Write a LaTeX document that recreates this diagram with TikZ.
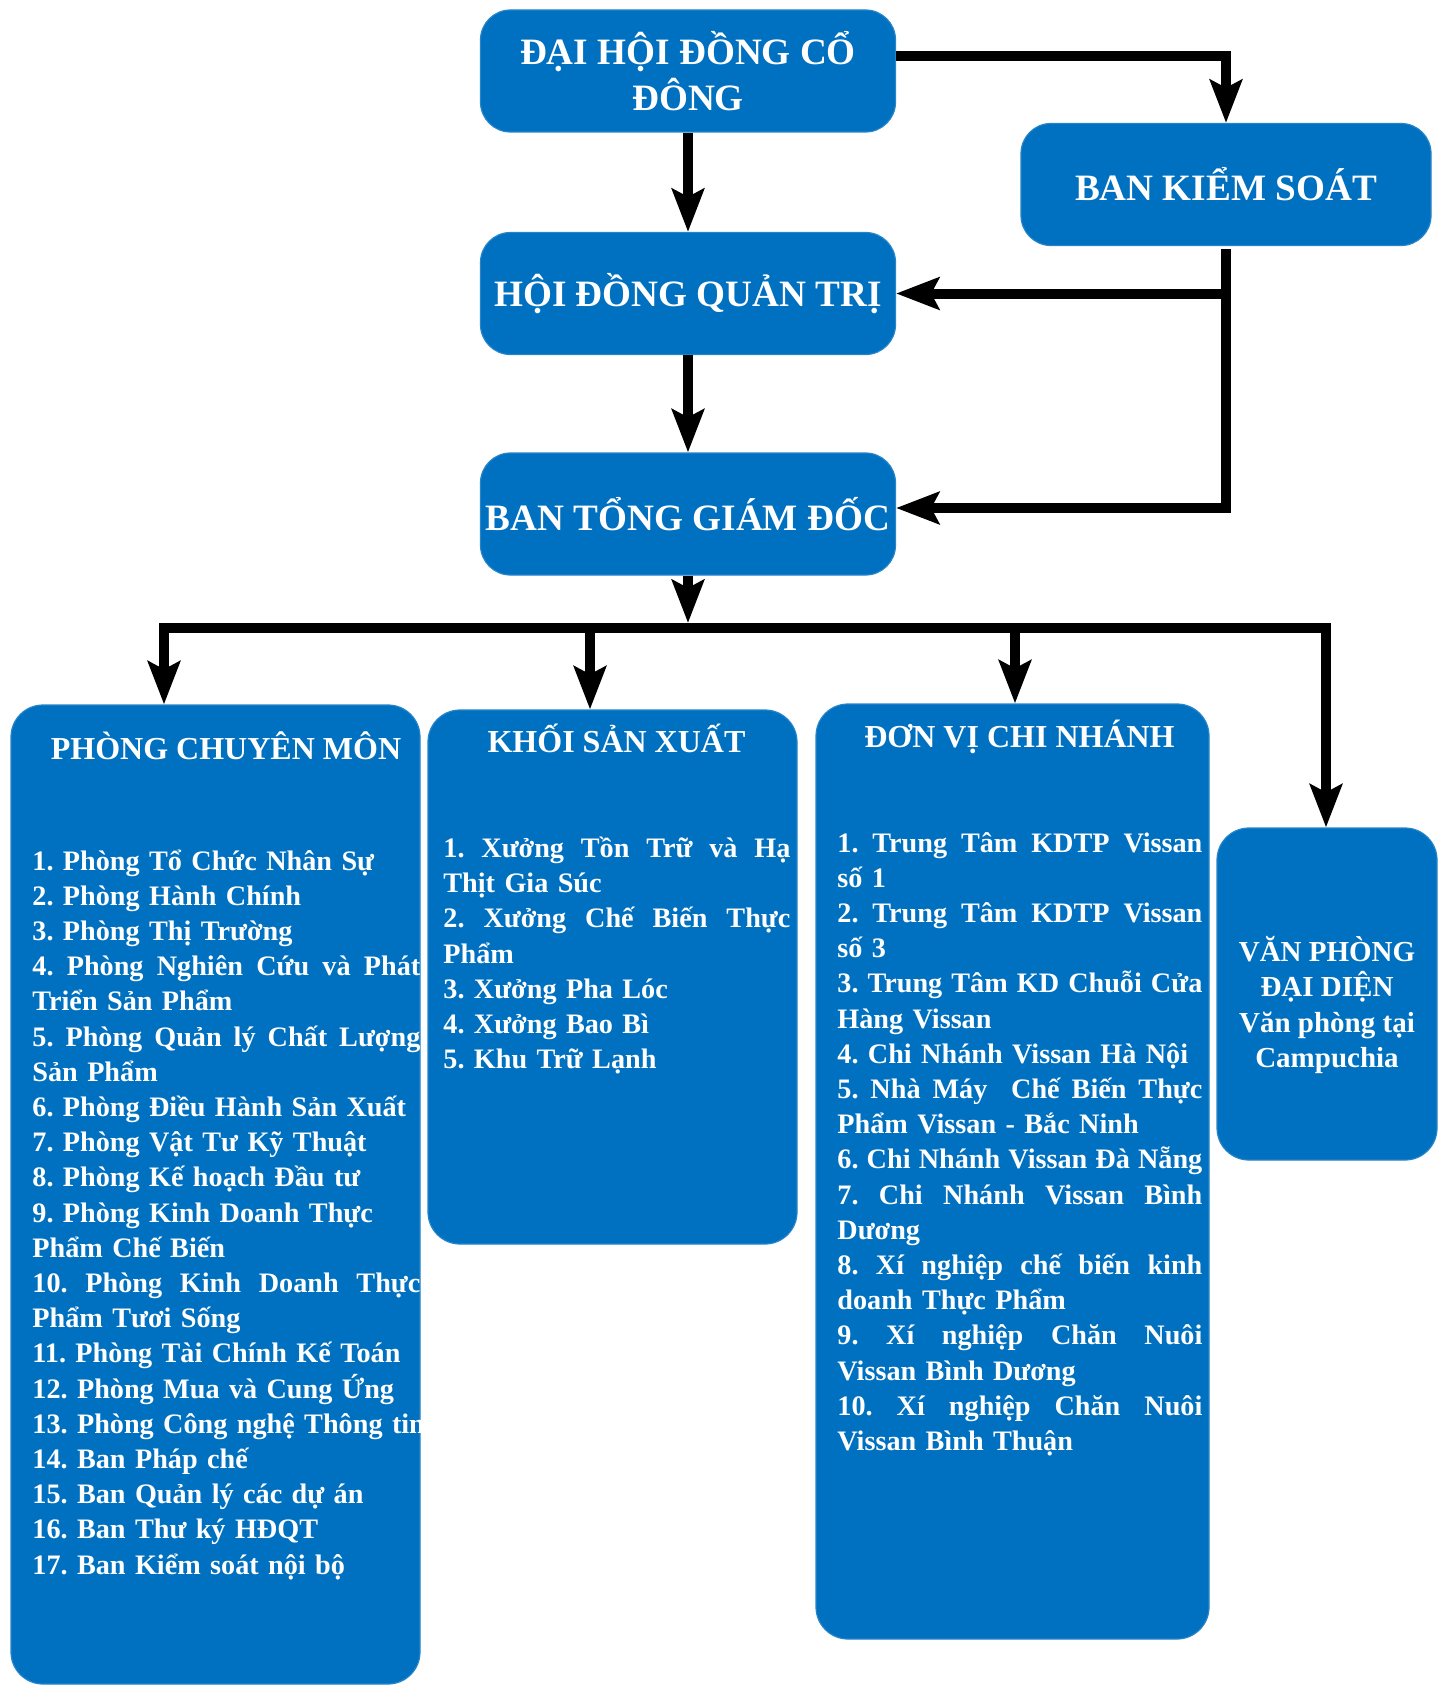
\documentclass[tikz,border=0pt]{standalone}
\usepackage{fontspec}
\setmainfont{Liberation Serif}
\usetikzlibrary{arrows.meta}
\definecolor{boxblue}{RGB}{0,112,192}
\newcommand{\jl}[2][194pt]{\leavevmode\hbox to #1{\spaceskip=\fontdimen2\font plus 1fil\relax #2}}
\frenchspacing

\begin{document}
\begin{tikzpicture}[x=0.5pt,y=-0.5pt,
  topbox/.style={rectangle,rounded corners=15pt,fill=boxblue,draw=boxblue!85!white,line width=0.6pt,
    text=white,font=\bfseries\fontsize{18.6}{22.8}\selectfont,align=center,
    minimum width=207.5pt,minimum height=61pt,inner sep=0pt},
  unitbox/.style={rectangle,rounded corners=16pt,fill=boxblue,draw=boxblue!85!white,line width=0.6pt,inner sep=0pt},
  headtext/.style={text=white,font=\bfseries\fontsize{16}{19}\selectfont,anchor=base,inner sep=0pt},
  listtext/.style={text=white,font=\bfseries\fontsize{14.1}{17.6}\selectfont,anchor=base west,align=left,
    text width=240pt,inner sep=0pt},
  conn/.style={line width=5pt},
  arr/.style={conn,-{Stealth[length=21.5pt,width=16pt,inset=4pt]}}]
  \useasboundingbox (0,0) rectangle (1443,1685);

  % upper levels
  \node[topbox] (dhcd) at (688,71) {ĐẠI HỘI ĐỒNG CỔ\\ĐÔNG};
  \node[topbox,minimum width=205pt] (bks) at (1226,184.5) {BAN KIỂM SOÁT};
  \node[topbox] (hdqt) at (688,293.5) {HỘI ĐỒNG QUẢN TRỊ};
  \node[topbox] (btgd) at (688,514) {BAN TỔNG GIÁM ĐỐC};

  % lower units
  \node[unitbox,minimum width=204.5pt,minimum height=489.5pt] (pcm) at (215.5,1194.5) {};
  \node[unitbox,minimum width=184.5pt,minimum height=267pt] (ksx) at (612.5,977) {};
  \node[unitbox,minimum width=196.5pt,minimum height=467.5pt] (dvcn) at (1012.5,1171.5) {};
  \node[unitbox,minimum width=110pt,minimum height=166pt] (vp) at (1327,994) {};

  \node[headtext] (pcmhead) at (226,759) {PHÒNG CHUYÊN MÔN};
  \node[headtext] (ksxhead) at (616.5,752.5) {KHỐI SẢN XUẤT};
  \node[headtext] (dvcnhead) at (1019.5,747) {ĐƠN VỊ CHI NHÁNH};

  \node[listtext] (pcmlist) at (32,870) {%
    1. Phòng Tổ Chức Nhân Sự\\
    2. Phòng Hành Chính\\
    3. Phòng Thị Trường\\
    \jl{4. Phòng Nghiên Cứu và Phát}\\
    Triển Sản Phẩm\\
    \jl{5. Phòng Quản lý Chất Lượng}\\
    Sản Phẩm\\
    6. Phòng Điều Hành Sản Xuất\\
    7. Phòng Vật Tư Kỹ Thuật\\
    8. Phòng Kế hoạch Đầu tư\\
    9. Phòng Kinh Doanh Thực\\
    Phẩm Chế Biến\\
    \jl{10. Phòng Kinh Doanh Thực}\\
    Phẩm Tươi Sống\\
    11. Phòng Tài Chính Kế Toán\\
    12. Phòng Mua và Cung Ứng\\
    13. Phòng Công nghệ Thông tin\\
    14. Ban Pháp chế\\
    15. Ban Quản lý các dự án\\
    16. Ban Thư ký HĐQT\\
    17. Ban Kiểm soát nội bộ};

  \node[listtext] (ksxlist) at (443,857.5) {%
    \jl[173.5pt]{1. Xưởng Tồn Trữ và Hạ}\\
    Thịt Gia Súc\\
    \jl[173.5pt]{2. Xưởng Chế Biến Thực}\\
    Phẩm\\
    3. Xưởng Pha Lóc\\
    4. Xưởng Bao Bì\\
    5. Khu Trữ Lạnh};

  \node[listtext] (dvcnlist) at (837,852) {%
    \jl[182.5pt]{1. Trung Tâm KDTP Vissan}\\
    số 1\\
    \jl[182.5pt]{2. Trung Tâm KDTP Vissan}\\
    số 3\\
    \jl[182.5pt]{3. Trung Tâm KD Chuỗi Cửa}\\
    Hàng Vissan\\
    4. Chi Nhánh Vissan Hà Nội\\
    \jl[182.5pt]{5. Nhà Máy \ Chế Biến Thực}\\
    Phẩm Vissan - Bắc Ninh\\
    \jl[182.5pt]{6. Chi Nhánh Vissan Đà Nẵng}\\
    \jl[182.5pt]{7. Chi Nhánh Vissan Bình}\\
    Dương\\
    \jl[182.5pt]{8. Xí nghiệp chế biến kinh}\\
    doanh Thực Phẩm\\
    \jl[182.5pt]{9. Xí nghiệp Chăn Nuôi}\\
    Vissan Bình Dương\\
    \jl[182.5pt]{10. Xí nghiệp Chăn Nuôi}\\
    Vissan Bình Thuận};

  \node[text=white,font=\bfseries\fontsize{14.5}{17.6}\selectfont,align=center,inner sep=0pt] (vptext) at (1327,1005)
    {VĂN PHÒNG\\ĐẠI DIỆN\\Văn phòng tại\\Campuchia};

  % connectors
  \coordinate (busL) at (164,628);
  \coordinate (busK) at (590,628);
  \coordinate (busD) at (1015,628);
  \coordinate (busR) at (1326,628);
  \draw[arr] (dhcd.east |- 0,56) -| (bks.north);
  \draw[arr] (dhcd) -- (hdqt);
  \draw[arr] (hdqt) -- (btgd);
  \draw[arr] (bks.south |- hdqt.east) -- (hdqt.east);
  \draw[arr] ([yshift=-1.5pt]bks.south) |- ([yshift=3pt]btgd.east);
  \draw[arr] (btgd) -- (btgd.south |- 0,623);
  \draw[arr] (btgd.south |- busL) -- (busL) -- (busL |- pcm.north);
  \draw[arr] (btgd.south |- busR) -- (busR) -- (busR |- vp.north);
  \draw[arr] (busK) -- (busK |- ksx.north);
  \draw[arr] (busD) -- (busD |- dvcn.north);
\end{tikzpicture}
\end{document}
